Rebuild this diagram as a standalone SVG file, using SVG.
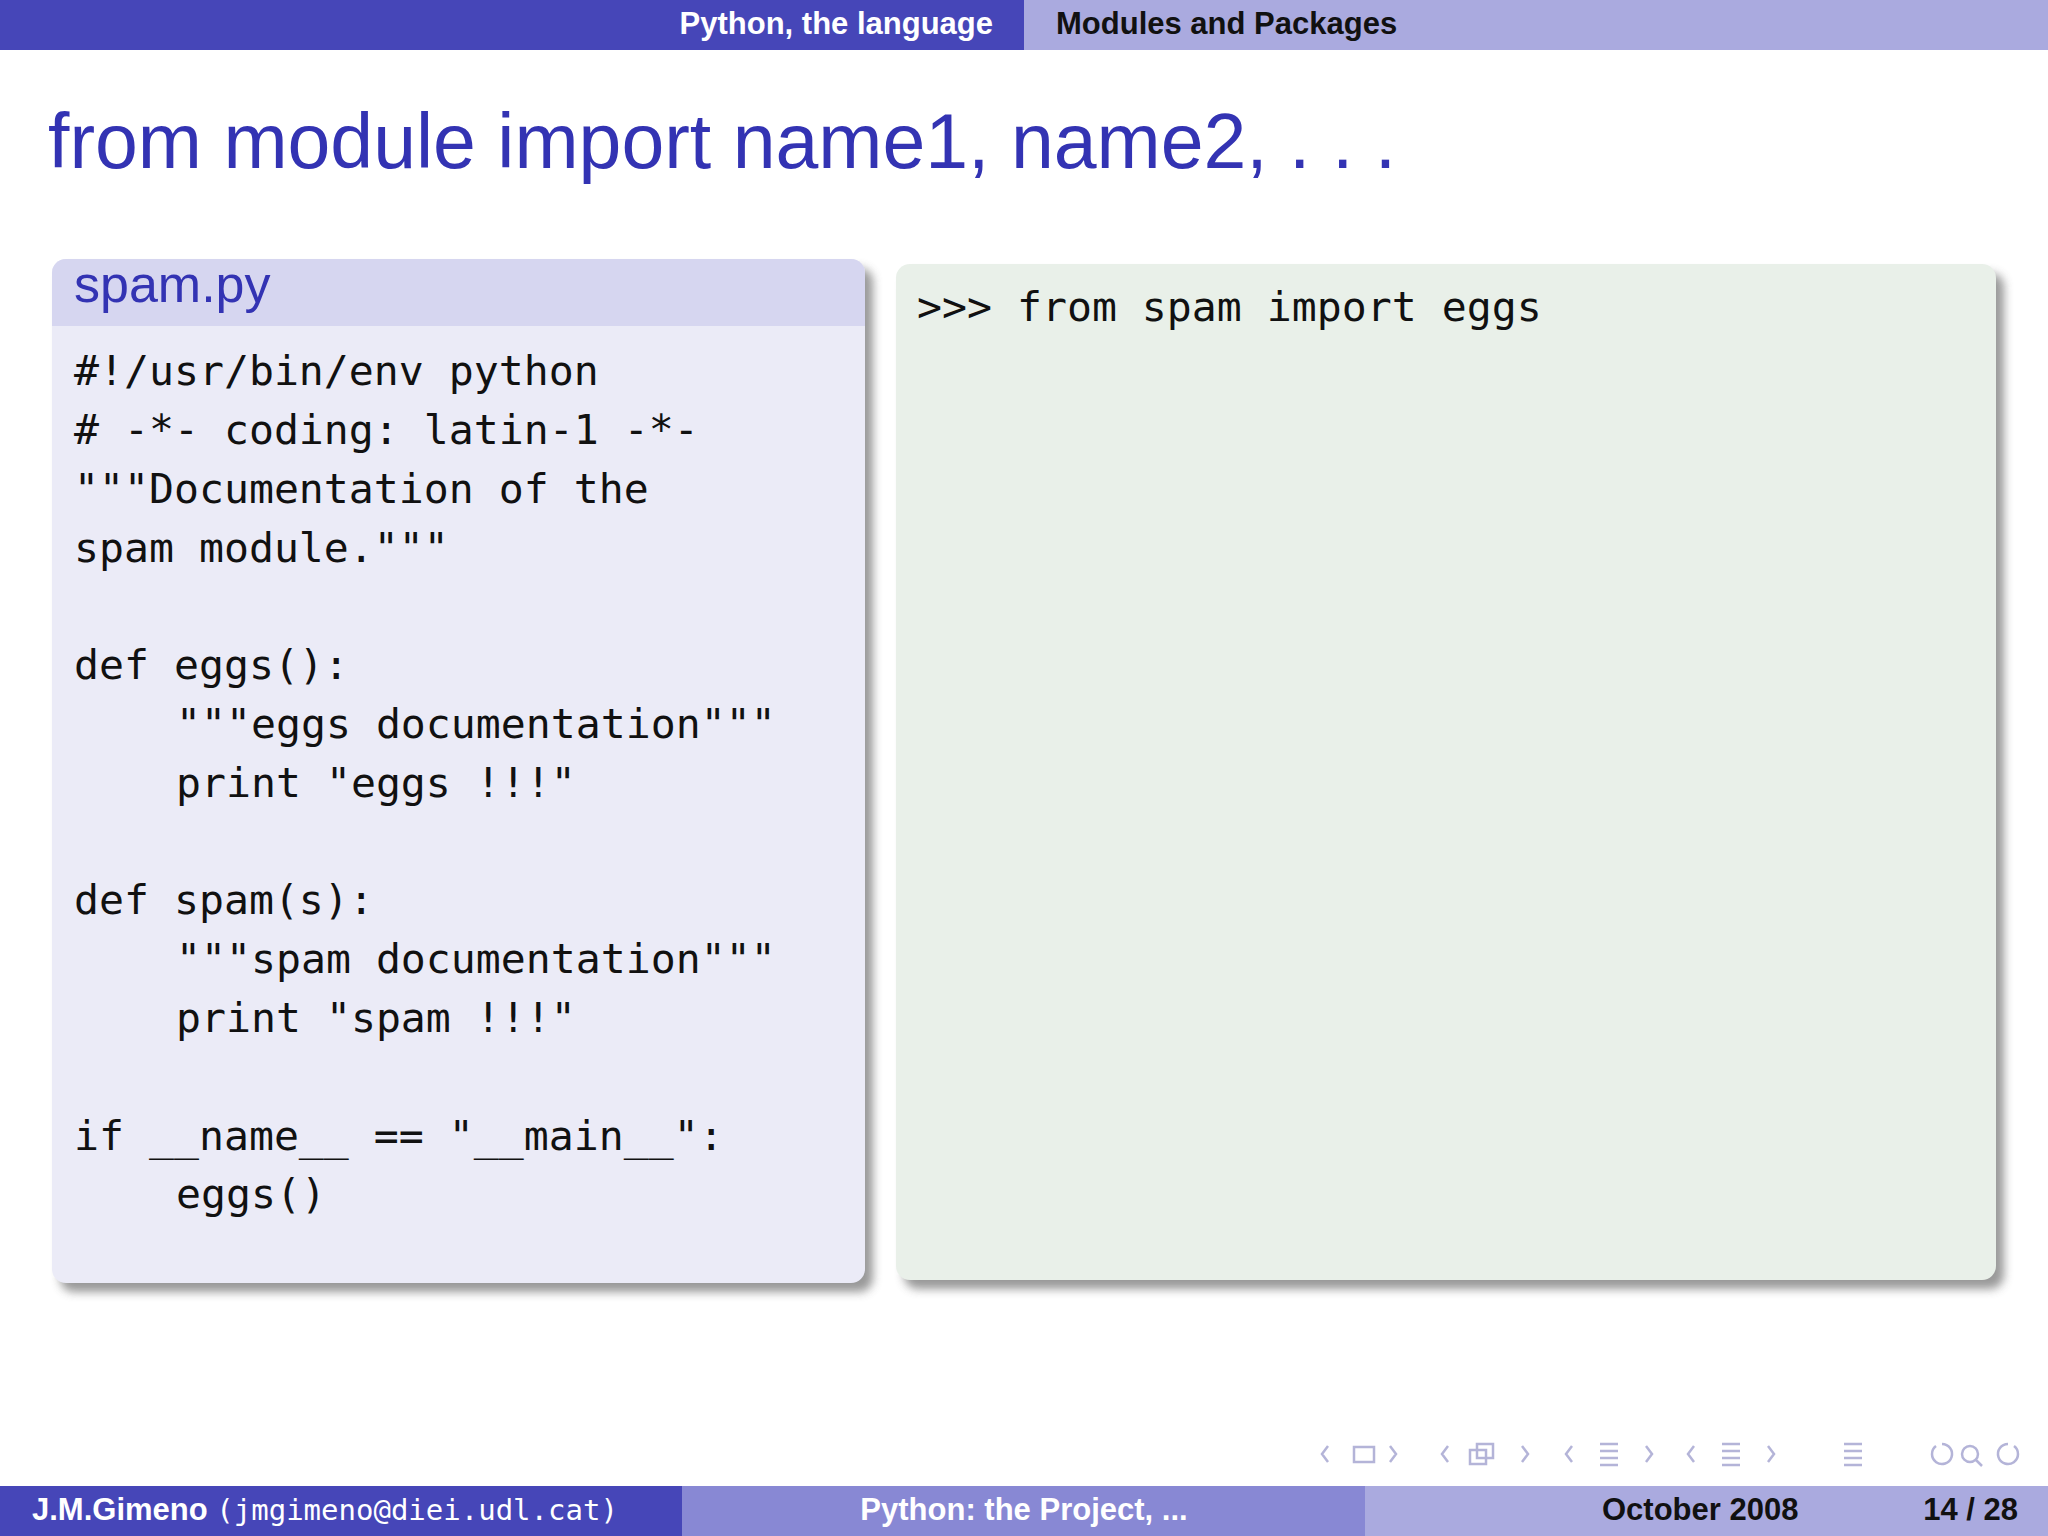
<svg xmlns="http://www.w3.org/2000/svg" width="2048" height="1536" viewBox="0 0 2048 1536">
<defs>
<style>
.sans{font-family:"Liberation Sans","DejaVu Sans",sans-serif}
.mono{font-family:"DejaVu Sans Mono","Liberation Mono",monospace;font-size:41.5px;fill:#111}
.nav{fill:none;stroke:#b4b4d8;stroke-width:2.5}
</style>
<filter id="sh" x="-5%" y="-5%" width="115%" height="115%"><feGaussianBlur stdDeviation="5"/></filter>
</defs>
<rect width="2048" height="1536" fill="#fff"/>
<g id="header">
<rect x="0" y="0" width="1024" height="50" fill="#4646b8"/>
<rect x="1024" y="0" width="1024" height="50" fill="#aaaadf"/>
<text x="993" y="34" text-anchor="end" class="sans" font-size="31" font-weight="bold" fill="#fff">Python, the language</text>
<text x="1056" y="34" class="sans" font-size="31" font-weight="bold" fill="#111">Modules and Packages</text>
</g>
<text id="title" x="48" y="168" class="sans" font-size="77" fill="#3333b3">from module import name1, name2, . . .</text>
<g id="spam-block">
<rect x="60" y="268" width="813" height="1024" rx="14" fill="#555" opacity="0.6" filter="url(#sh)"/>
<rect x="52" y="259" width="813" height="1024" rx="14" fill="#ebebf7"/>
<path d="M52 326 V273 a14 14 0 0 1 14 -14 H851 a14 14 0 0 1 14 14 V326 Z" fill="#d6d6f0"/>
<text x="74" y="302" class="sans" font-size="52" fill="#3333b3">spam.py</text>
<text class="mono" xml:space="preserve"><tspan x="74" y="385">#!/usr/bin/env python</tspan><tspan x="74" y="444"># -*- coding: latin-1 -*-</tspan><tspan x="74" y="503">"""Documentation of the</tspan><tspan x="74" y="562">spam module."""</tspan><tspan x="74" y="679">def eggs():</tspan><tspan x="176" y="738">"""eggs documentation"""</tspan><tspan x="176" y="797">print "eggs !!!"</tspan><tspan x="74" y="914">def spam(s):</tspan><tspan x="176" y="973">"""spam documentation"""</tspan><tspan x="176" y="1032">print "spam !!!"</tspan><tspan x="74" y="1150">if __name__ == "__main__":</tspan><tspan x="176" y="1208">eggs()</tspan></text>
</g>
<g id="console-block">
<rect x="904" y="273" width="1100" height="1016" rx="14" fill="#555" opacity="0.6" filter="url(#sh)"/>
<rect x="896" y="264" width="1100" height="1016" rx="14" fill="#e9f0e9"/>
<text x="917" y="321" class="mono">&gt;&gt;&gt; from spam import eggs</text>
</g>
<g id="nav">
<path class="nav" d="M1328 1446 l-6 8 6 8 M1390 1446 l6 8 -6 8 M1448 1446 l-6 8 6 8 M1522 1446 l6 8 -6 8 M1572 1446 l-6 8 6 8 M1646 1446 l6 8 -6 8 M1694 1446 l-6 8 6 8 M1768 1446 l6 8 -6 8"/>
<rect class="nav" x="1354" y="1447" width="20" height="15"/>
<rect class="nav" x="1470" y="1450" width="16" height="14"/><rect class="nav" x="1477" y="1444" width="16" height="14"/>
<path class="nav" d="M1600 1444 h18 M1600 1451 h18 M1600 1458 h18 M1600 1465 h18 M1722 1444 h18 M1722 1451 h18 M1722 1458 h18 M1722 1465 h18 M1844 1444 h18 M1844 1451 h18 M1844 1458 h18 M1844 1465 h18"/>
<path class="nav" d="M1936 1446 a10 10 0 1 0 6 -2 M1962 1454 a8 8 0 1 0 16 0 a8 8 0 1 0 -16 0 M1976 1460 l6 6 M2014 1446 a10 10 0 1 1 -6 -2"/>
</g>
<g id="footer">
<rect x="0" y="1486" width="682" height="50" fill="#4646b8"/>
<rect x="682" y="1486" width="683" height="50" fill="#8888d4"/>
<rect x="1365" y="1486" width="683" height="50" fill="#aaaadf"/>
<text x="32" y="1520" class="sans" font-size="31" font-weight="bold" fill="#fff">J.M.Gimeno <tspan font-family="DejaVu Sans Mono,monospace" font-weight="normal" font-size="29">(jmgimeno@diei.udl.cat)</tspan></text>
<text x="1024" y="1520" text-anchor="middle" class="sans" font-size="31" font-weight="bold" fill="#fff">Python: the Project, ...</text>
<text x="1602" y="1520" class="sans" font-size="31" font-weight="bold" fill="#111">October 2008</text>
<text x="2018" y="1520" text-anchor="end" class="sans" font-size="31" font-weight="bold" fill="#111">14 / 28</text>
</g>
</svg>
